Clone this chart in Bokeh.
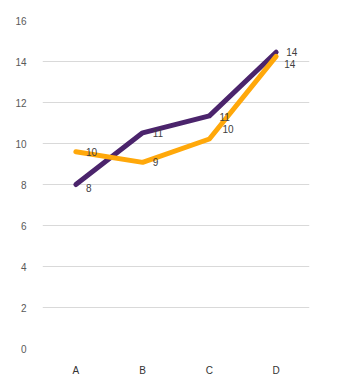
from bokeh.plotting import figure
from bokeh.models import ColumnDataSource, FactorRange, Range1d, FixedTicker
from bokeh.core.properties import value
from bokeh.embed import file_html
from bokeh.resources import INLINE

categories = ["A", "B", "C", "D"]
purple_values = [8.0, 10.52, 11.35, 14.45]
orange_values = [9.6, 9.08, 10.22, 14.25]
purple_labels = ["8", "11", "11", "14"]
orange_labels = ["10", "9", "10", "14"]
y_ticks = [0, 2, 4, 6, 8, 10, 12, 14, 16]

# label placement (screen pixels), layout only
purple_dx = [10, 10, 10, 10]
purple_dy = [3, 0, 1, 0]
orange_dx = [10, 10, 13, 8]
orange_dy = [0, 0, -10, 8]

PURPLE = "#4B246C"
ORANGE = "#FFA80A"
FONT = "Liberation Sans"

p = figure(width=356, height=385, x_range=FactorRange(*categories, range_padding=0),
           y_range=Range1d(0, 16), output_backend="svg", toolbar_location=None,
           min_border_left=42, min_border_right=47, min_border_top=20, min_border_bottom=37)
p.outline_line_color = None
p.xgrid.grid_line_color = None
p.ygrid.grid_line_color = "#D9D9D9"
p.ygrid.grid_line_width = 1
p.yaxis.ticker = FixedTicker(ticks=y_ticks)
for ax in (p.xaxis, p.yaxis):
    ax.axis_line_color = None
    ax.major_tick_line_color = None
    ax.minor_tick_line_color = None
    ax.major_label_text_font = FONT
    ax.major_label_text_font_size = "10px"
p.yaxis.major_label_text_color = "#595959"
p.xaxis.major_label_text_color = "#333333"
p.yaxis.major_label_standoff = 10
p.xaxis.major_label_standoff = 10

src_o = ColumnDataSource(dict(x=categories, y=orange_values, t=orange_labels, dx=orange_dx, dy=orange_dy))
src_p = ColumnDataSource(dict(x=categories, y=purple_values, t=purple_labels, dx=purple_dx, dy=purple_dy))

p.line("x", "y", source=src_p, line_color=PURPLE, line_width=5, line_cap="round", line_join="round")
p.line("x", "y", source=src_o, line_color=ORANGE, line_width=5, line_cap="round", line_join="round")

p.text("x", "y", text="t", source=src_p, x_offset="dx", y_offset="dy", text_align="left",
       text_baseline="middle", text_font=value(FONT), text_font_size="10px", text_color="#404040")
p.text("x", "y", text="t", source=src_o, x_offset="dx", y_offset="dy", text_align="left",
       text_baseline="middle", text_font=value(FONT), text_font_size="10px", text_color="#404040")

open("out.html", "w").write(file_html(p, INLINE))
